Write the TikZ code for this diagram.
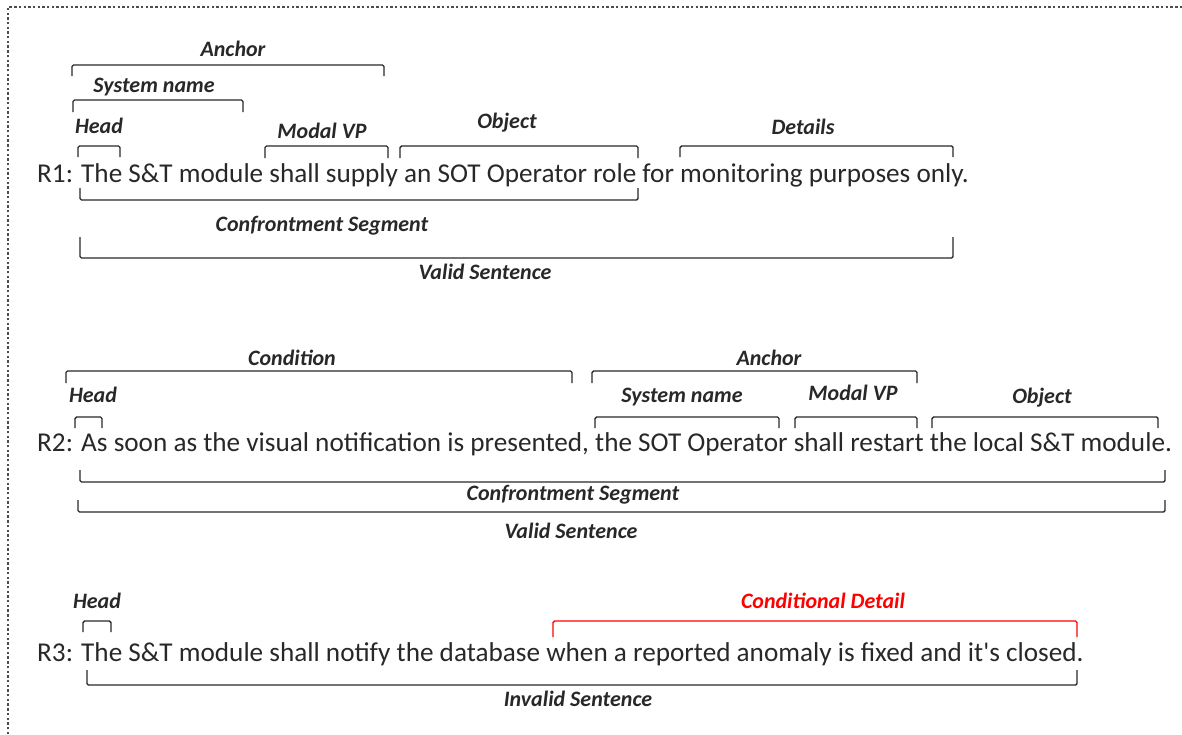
\documentclass[tikz,border=0pt]{standalone}
\usepackage{fontspec}
\setmainfont{Carlito}
\newcommand\sentfont{\fontsize{27.2}{30}\selectfont}
\newcommand\tagfont{\fontsize{22}{24}\selectfont\bfseries\itshape}
\definecolor{inkgray}{RGB}{40,40,40}
\definecolor{tagred}{RGB}{255,0,0}
% span bracket: x-left, x-right, y of the bar, y where the ticks end
\newcommand\spanbrk[5][]{\draw[brk,#1] (#2,#5) -- (#2,#4) -- (#3,#4) -- (#3,#5);}

\begin{document}
\begin{tikzpicture}[x=1pt, y=-1pt,
    sent/.style={anchor=base west, inner sep=0pt, font=\sentfont, text=inkgray},
    tag/.style={anchor=base, inner sep=0pt, font=\tagfont, text=inkgray},
    brk/.style={draw=inkgray, line width=1.4pt, rounded corners=1.5pt},
    frame/.style={draw=black!70, line width=2.7pt, dash pattern=on 2.4pt off 2.3pt}
  ]
  \useasboundingbox (0,0) rectangle (1182,734);
  \draw[frame] (8,734) -- (8,7) -- (1182,7);

  % R1
  \node[sent] (r1) at (37,182) {R1: The S\&T module shall supply an SOT Operator role for monitoring purposes only.};
  \node[tag] (r1anchor) at (233,56)  {Anchor};
  \node[tag] (r1sys)    at (154,92)  {System name};
  \node[tag] (r1head)   at (99,133)  {Head};
  \node[tag] (r1modal)  at (322,138) {Modal VP};
  \node[tag] (r1obj)    at (507,128) {Object};
  \node[tag] (r1det)    at (803,134) {Details};
  \node[tag] (r1conf)   at (322,231) {Confrontment Segment};
  \node[tag] (r1valid)  at (485,279) {Valid Sentence};
  \spanbrk{72}{384}{65}{76}
  \spanbrk{73}{243}{100}{112}
  \spanbrk{78}{120}{146}{157}
  \spanbrk{265}{388}{146}{158}
  \spanbrk{400}{638}{146}{158}
  \spanbrk{680}{953}{146}{157}
  \spanbrk{80}{638}{200}{188}
  \spanbrk{80}{953}{258}{237}

  % R2
  \node[sent] (r2) at (37,451) {R2: As soon as the visual notification is presented, the SOT Operator shall restart the local S\&T module.};
  \node[tag] (r2cond)   at (292,365) {Condition};
  \node[tag] (r2anchor) at (769,365) {Anchor};
  \node[tag] (r2head)   at (93,402)  {Head};
  \node[tag] (r2sys)    at (682,402) {System name};
  \node[tag] (r2modal)  at (853,400) {Modal VP};
  \node[tag] (r2obj)    at (1042,403) {Object};
  \node[tag] (r2conf)   at (573,500) {Confrontment Segment};
  \node[tag] (r2valid)  at (571,538) {Valid Sentence};
  \spanbrk{66}{572}{371}{383}
  \spanbrk{592}{917}{371}{383}
  \spanbrk{75}{102}{417}{428}
  \spanbrk{595}{779}{417}{428}
  \spanbrk{795}{917}{417}{428}
  \spanbrk{932}{1158}{417}{428}
  \spanbrk{80}{1165}{482}{470}
  \spanbrk{78}{1165}{512}{500}

  % R3
  \node[sent] (r3) at (37,661) {R3: The S\&T module shall notify the database when a reported anomaly is fixed and it\textquotesingle s closed.};
  \node[tag] (r3head)  at (97,608)  {Head};
  \node[tag, text=tagred] (r3cdet) at (823,608) {Conditional Detail};
  \node[tag] (r3inv)   at (578,706) {Invalid Sentence};
  \spanbrk{83}{111}{621}{632}
  \spanbrk[draw=tagred]{553}{1077}{621}{637}
  \spanbrk{87}{1077}{685}{670}
\end{tikzpicture}
\end{document}
